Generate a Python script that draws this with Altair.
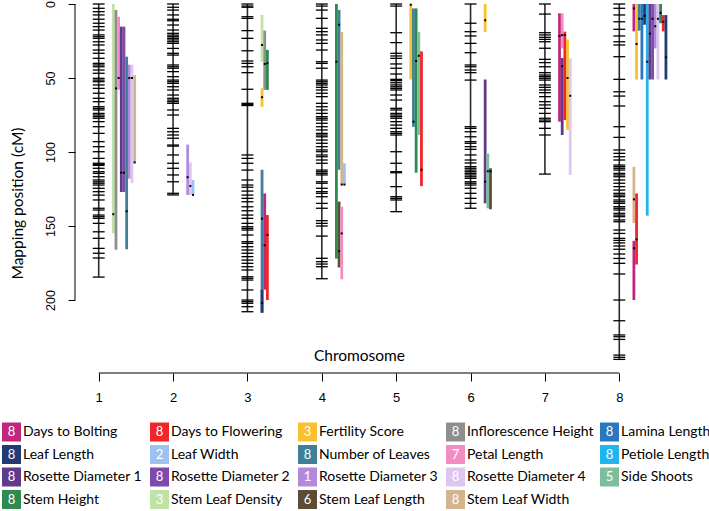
import altair as alt
import pandas as pd

# ---------------- data ----------------
chromosomes = [1, 2, 3, 4, 5, 6, 7, 8]

chr1_markers = [0, 2.9, 5.2, 7.4, 10.3, 13.0, 15.3, 17.6, 20.9, 22.1, 23.2, 25.5, 27.7, 31.1, 33.3,
                36.7, 40.1, 41.2, 42.4, 44.6, 46.8, 50.2, 51.4, 52.5, 54.7, 57.0, 60.3, 63.7, 66.0,
                69.4, 70.5, 71.6, 73.9, 75.0, 76.1, 77.2, 79.5, 82.9, 87.4, 93.0, 96.4, 99.8, 104.3,
                107.6, 108.3, 109.0, 111.0, 113.3, 114.4, 116.7, 118.9, 120.1, 121.1, 122.3, 124.5,
                126.8, 129.1, 132.4, 138.0, 139.2, 142.6, 143.7, 144.8, 148.2, 153.9, 158.3, 165.1,
                168.4, 171.6, 184.5]
chr2_markers = [0, 2.2, 4.1, 7.4, 10.3, 11.3, 14.2, 17.6, 19.8, 21.0, 22.1, 23.2, 24.3, 25.5, 26.6,
                30.0, 33.3, 34.5, 41.2, 42.4, 43.4, 45.7, 49.1, 51.4, 52.5, 53.6, 55.9, 58.1, 61.5,
                63.7, 64.9, 66.0, 67.1, 71.6, 75.0, 84.0, 86.3, 88.5, 90.7, 95.3, 96.0, 102.0, 107.6,
                111.0, 115.5, 120.1, 127.9, 129.0]
chr3_markers = [0, 1.4, 2.2, 8.6, 9.7, 18.0, 23.2, 31.6, 38.5, 40.1, 42.4, 46.4, 57.6, 67.1, 67.9,
                68.6, 102.0, 104.3, 107.6, 112.2, 118.9, 122.3, 123.8, 126.4, 129.1, 131.3, 133.6,
                137.0, 139.7, 142.6, 144.8, 148.2, 150.5, 151.6, 152.7, 156.1, 160.6, 161.7, 164.0,
                166.2, 168.4, 170.7, 173.0, 175.2, 177.5, 179.7, 184.3, 185.3, 186.5, 193.2, 200.0,
                201.1, 202.2, 204.5, 207.9]
chr4_markers = [0, 1.4, 4.1, 9.7, 16.4, 18.7, 20.9, 24.3, 26.6, 31.1, 39.0, 40.1, 43.4, 51.4, 52.5,
                53.6, 54.7, 56.3, 58.1, 60.3, 62.6, 67.1, 69.4, 71.6, 73.9, 76.1, 77.2, 78.4, 80.6,
                82.9, 85.1, 87.4, 88.5, 89.7, 91.9, 94.1, 96.4, 98.6, 99.8, 102.0, 103.2, 105.4,
                107.6, 112.2, 113.3, 114.4, 115.5, 120.1, 121.1, 124.5, 126.8, 127.9, 130.2, 134.7,
                138.0, 146.4, 148.2, 150.0, 156.8, 171.8, 174.1, 175.7, 177.5, 185.6]
chr5_markers = [0, 1.4, 19.4, 26.1, 33.3, 35.1, 36.7, 40.5, 43.4, 47.3, 50.9, 51.8, 53.2, 54.7, 55.9,
                57.0, 58.1, 61.5, 64.9, 70.5, 71.6, 73.9, 75.0, 76.1, 77.2, 79.5, 81.8, 84.0, 86.3,
                87.4, 88.5, 99.8, 107.6, 113.3, 114.0, 123.4, 130.2, 131.3, 132.4, 140.3]
chr6_markers = [0, 13.0, 18.7, 21.6, 26.6, 32.9, 41.2, 42.4, 44.6, 46.4, 51.4, 82.9, 84.0, 86.3, 89.7,
                93.0, 94.1, 96.4, 98.2, 102.0, 105.4, 107.4, 109.9, 111.0, 112.2, 113.3, 114.4,
                115.5, 116.7, 117.8, 120.1, 121.1, 122.3, 124.5, 127.9, 131.3, 134.7, 138.0]
chr7_markers = [0, 6.8, 19.4, 20.9, 22.5, 23.9, 25.5, 29.9, 37.4, 39.6, 42.4, 46.4, 48.0, 49.1, 50.2,
                51.4, 54.7, 56.3, 58.1, 59.9, 62.6, 66.0, 68.2, 70.5, 73.9, 77.2, 78.4, 79.5, 84.0,
                88.5, 114.9]
chr8_markers = [0, 2.9, 7.4, 12.0, 17.1, 21.6, 25.5, 27.7, 35.6, 50.9, 59.3, 62.2, 68.9, 82.9, 90.1,
                98.6, 100.9, 103.2, 105.4, 108.8, 109.9, 111.0, 112.2, 114.4, 115.5, 116.7, 118.9,
                121.1, 123.4, 125.7, 127.9, 129.1, 130.2, 132.4, 133.6, 134.7, 136.9, 138.0, 139.2,
                141.4, 142.6, 143.7, 145.9, 147.1, 152.7, 155.0, 158.3, 159.7, 161.4, 163.5, 165.7,
                168.9, 171.9, 175.2, 182.4, 200.0, 214.0, 223.6, 224.8, 226.6, 237.2, 238.7, 240.1]
marker_lists = [chr1_markers, chr2_markers, chr3_markers, chr4_markers,
                chr5_markers, chr6_markers, chr7_markers, chr8_markers]

traits = ["Days to Bolting", "Days to Flowering", "Fertility Score", "Inflorescence Height",
          "Lamina Length", "Leaf Length", "Leaf Width", "Number of Leaves", "Petal Length",
          "Petiole Length", "Rosette Diameter 1", "Rosette Diameter 2", "Rosette Diameter 3",
          "Rosette Diameter 4", "Side Shoots", "Stem Height", "Stem Leaf Density",
          "Stem Leaf Length", "Stem Leaf Width"]
trait_colors = ["#C0267E", "#F0262B", "#FBC02D", "#8E8E8E", "#2A78C0", "#233A73", "#9CC2F2",
                "#3F8098", "#F48CC4", "#21B5EE", "#5F3B8A", "#7E4AAC", "#B38ADB", "#DCC8EF",
                "#7DBF9C", "#2F8A50", "#BFE3A5", "#5E4B35", "#D4B48C"]
trait_codes = ["8", "8", "3", "8", "8", "8", "2", "8", "7", "8", "8", "8", "1", "8", "5",
               "8", "3", "6", "8"]

qtl_trait = [
    "Stem Leaf Density", "Inflorescence Height", "Petal Length", "Rosette Diameter 1",
    "Rosette Diameter 2", "Number of Leaves", "Rosette Diameter 3", "Rosette Diameter 4",
    "Stem Leaf Width",
    "Rosette Diameter 3", "Rosette Diameter 4", "Leaf Width",
    "Stem Leaf Density", "Inflorescence Height", "Stem Height", "Fertility Score",
    "Number of Leaves", "Leaf Length", "Days to Bolting", "Days to Flowering",
    "Stem Height", "Number of Leaves", "Stem Leaf Width", "Leaf Width", "Stem Leaf Length",
    "Petal Length",
    "Fertility Score", "Number of Leaves", "Stem Height", "Side Shoots", "Days to Flowering",
    "Fertility Score", "Rosette Diameter 1", "Side Shoots", "Stem Leaf Length",
    "Days to Bolting", "Petal Length", "Rosette Diameter 1", "Days to Flowering",
    "Fertility Score", "Rosette Diameter 4",
    "Days to Bolting", "Fertility Score", "Number of Leaves", "Lamina Length", "Leaf Length",
    "Petiole Length", "Rosette Diameter 1", "Rosette Diameter 2", "Rosette Diameter 3",
    "Rosette Diameter 4", "Stem Height", "Days to Flowering", "Leaf Length",
    "Stem Leaf Width", "Days to Flowering", "Days to Bolting"]
qtl_chrom = [1, 1, 1, 1, 1, 1, 1, 1, 1,
             2, 2, 2,
             3, 3, 3, 3, 3, 3, 3, 3,
             4, 4, 4, 4, 4, 4,
             5, 5, 5, 5, 5,
             6, 6, 6, 6,
             7, 7, 7, 7, 7, 7,
             8, 8, 8, 8, 8, 8, 8, 8, 8, 8, 8, 8, 8, 8, 8, 8]
qtl_lane = [0, 1, 2, 3, 4, 5, 6, 7, 8,
            0, 1, 2,
            0, 1, 2, 0, 0, 0, 1, 2,
            0, 1, 2, 3, 1, 2,
            0, 1, 2, 3, 4,
            0, 0, 1, 2,
            0, 1, 1, 2, 3, 4,
            0, 1, 2, 3, 4, 5, 6, 7, 8, 9, 10, 11, 12, 0, 1, 0]
qtl_start = [0, 4, 8.6, 15.3, 15.3, 35.6, 41, 41, 48,
             95, 107, 119,
             7.4, 18, 31, 57, 112, 193, 128, 142.6,
             0, 4, 19, 107.6, 133.5, 137,
             0, 3, 3, 19, 32,
             0, 51, 101, 111,
             6.3, 6.3, 36.5, 18.7, 24, 36.7,
             0, 0, 0, 0, 0, 0, 0, 0, 0, 0, 0, 7.5, 7.5, 110, 128, 160]
qtl_end = [155, 166, 58, 127, 127, 165.7, 118, 121, 107.6,
           129, 129, 129,
           39, 58, 58, 69.5, 208.6, 208.6, 193, 200,
           172, 112, 122, 122.3, 178, 186,
           51, 83, 114, 88.5, 123,
           19, 134.7, 138, 138.7,
           79.5, 30, 88.5, 78.4, 85, 115.5,
           18.5, 51, 18, 51, 14, 143, 51, 51, 30, 51, 13, 18.5, 51, 148, 176, 200]
qtl_peak = [142, 57, 50, 114, 114, 140, 50, 50, 107,
            117, 123, 129,
            27.7, 40.5, 40, 63, 145, 202, 163, 156,
            39, 14, 122, 122, 167, 155,
            0.5, 79.5, 38.5, 35, 112,
            11, 120, 113, 113,
            21.6, 21, 42, 21, 50, 62,
            3, 27, 10, 10, 8, 39, 20, 10, 15, 10, 6, 12, 36, 132, 159, 165]

y_ticks = [0, 50, 100, 150, 200]

# ---------------- geometry ----------------
W, H = 630, 369
X_DOM = [0.6813, 9.1524]
Y_DOM = [0, 249.3]
TICK_HALF = 0.08
LANE0 = 0.1963
LANE_STEP = 0.0359

marker_df = pd.DataFrame([{"chrom": c, "pos": p}
                          for c, lst in zip(chromosomes, marker_lists) for p in lst])
chrom_df = pd.DataFrame({"chrom": chromosomes, "start": [0] * 8,
                         "length": [max(l) for l in marker_lists]})
qtl_df = pd.DataFrame({"trait": qtl_trait, "chrom": qtl_chrom, "lane": qtl_lane,
                       "start": qtl_start, "end": qtl_end, "peak": qtl_peak})
legend_df = pd.DataFrame({"trait": traits, "code": trait_codes,
                          "col": [i % 5 for i in range(len(traits))],
                          "row": [i // 5 for i in range(len(traits))]})

xs = alt.Scale(domain=X_DOM, nice=False, zero=False)
ys = alt.Scale(domain=Y_DOM, nice=False, zero=False, reverse=True)
cs = alt.Scale(domain=traits, range=trait_colors)

x_axis = alt.Axis(values=chromosomes, domain=False, grid=False, tickSize=8, tickColor="black",
                  tickWidth=1, labelFont="Liberation Sans", labelFontSize=13, labelColor="black",
                  labelBaseline="middle", labelPadding=16, format="d",
                  title="Chromosome", titleFont="Lato", titleFontSize=15.5,
                  titleFontWeight="normal", titleColor="black", titleX=284, titleY=-18,
                  titleAlign="center", titleBaseline="middle")
y_axis = alt.Axis(values=y_ticks, domain=False, grid=False, tickSize=7, tickColor="black",
                  tickWidth=1, labelFont="Liberation Sans", labelFontSize=12.5,
                  labelColor="black", labelAngle=270, labelAlign="center",
                  labelBaseline="middle", labelPadding=18, format="d",
                  title="Mapping position (cM)", titleFont="Lato", titleFontSize=15.5,
                  titleFontWeight="normal", titleColor="black", titleAngle=270, titleX=-58,
                  titleY=199, titleAlign="center", titleBaseline="middle")

backbone = alt.Chart(chrom_df).mark_rule(color="#2b2b2b", strokeWidth=1.6).encode(
    x=alt.X("chrom:Q", scale=xs, axis=x_axis),
    y=alt.Y("start:Q", scale=ys, axis=y_axis),
    y2="length:Q",
)

markers = alt.Chart(marker_df).transform_calculate(
    xa=f"datum.chrom - {TICK_HALF}", xb=f"datum.chrom + {TICK_HALF}"
).mark_rule(color="black", strokeWidth=1.3).encode(
    x=alt.X("xa:Q", scale=xs, axis=x_axis),
    x2="xb:Q",
    y=alt.Y("pos:Q", scale=ys, axis=y_axis),
)

qtl_base = alt.Chart(qtl_df).transform_calculate(
    xq=f"datum.chrom + {LANE0} + datum.lane * {LANE_STEP}"
)
qtl = qtl_base.mark_rule(strokeWidth=2.8, strokeCap="butt").encode(
    x=alt.X("xq:Q", scale=xs, axis=x_axis),
    y=alt.Y("start:Q", scale=ys, axis=y_axis),
    y2="end:Q",
    color=alt.Color("trait:N", scale=cs, legend=None),
)
peaks = qtl_base.mark_square(size=4, color="black", opacity=1).encode(
    x=alt.X("xq:Q", scale=xs, axis=x_axis),
    y=alt.Y("peak:Q", scale=ys, axis=y_axis),
)

yline = alt.Chart(pd.DataFrame({"v": y_ticks})).mark_rule(color="black", strokeWidth=1).encode(
    x=alt.value(0),
    y=alt.Y("min(v):Q", scale=ys, axis=y_axis),
    y2="max(v):Q",
)
xline = alt.Chart(pd.DataFrame({"c": chromosomes})).mark_rule(color="black", strokeWidth=1).encode(
    x=alt.X("min(c):Q", scale=xs, axis=x_axis),
    x2="max(c):Q",
    y=alt.value(H),
)

main = alt.layer(backbone, markers, qtl, peaks, yline, xline)

lx = alt.Scale(type="linear", domain=[0, 1, 2, 3, 4], range=[-63.5, 84.5, 232.5, 380.5, 534.5])
ly = alt.Scale(domain=[0, 3], range=[428, 495.5])
leg_base = alt.Chart(legend_df)
swatch = leg_base.mark_square(size=361, opacity=1, filled=True).encode(
    x=alt.X("col:Q", scale=lx, axis=None),
    y=alt.Y("row:Q", scale=ly, axis=None),
    color=alt.Color("trait:N", scale=cs, legend=None),
)
code_txt = leg_base.mark_text(color="white", font="Lato", fontSize=13, align="center",
                              baseline="middle").encode(
    x=alt.X("col:Q", scale=lx, axis=None),
    y=alt.Y("row:Q", scale=ly, axis=None),
    text="code:N",
)
label_txt = leg_base.mark_text(color="black", font="Lato", fontSize=14, align="left",
                               baseline="middle", dx=11.5).encode(
    x=alt.X("col:Q", scale=lx, axis=None),
    y=alt.Y("row:Q", scale=ly, axis=None),
    text="trait:N",
)
legend = alt.layer(swatch, code_txt, label_txt)

chart = alt.layer(main, legend).resolve_scale(x="independent", y="independent").properties(
    width=W, height=H,
    autosize=alt.AutoSizeParams(type="none"),
    padding={"left": 75, "top": 4, "right": 4, "bottom": 138},
    background="white",
).configure_view(strokeWidth=0)

chart.save("out.html", embed_options={"renderer": "svg", "actions": False})
